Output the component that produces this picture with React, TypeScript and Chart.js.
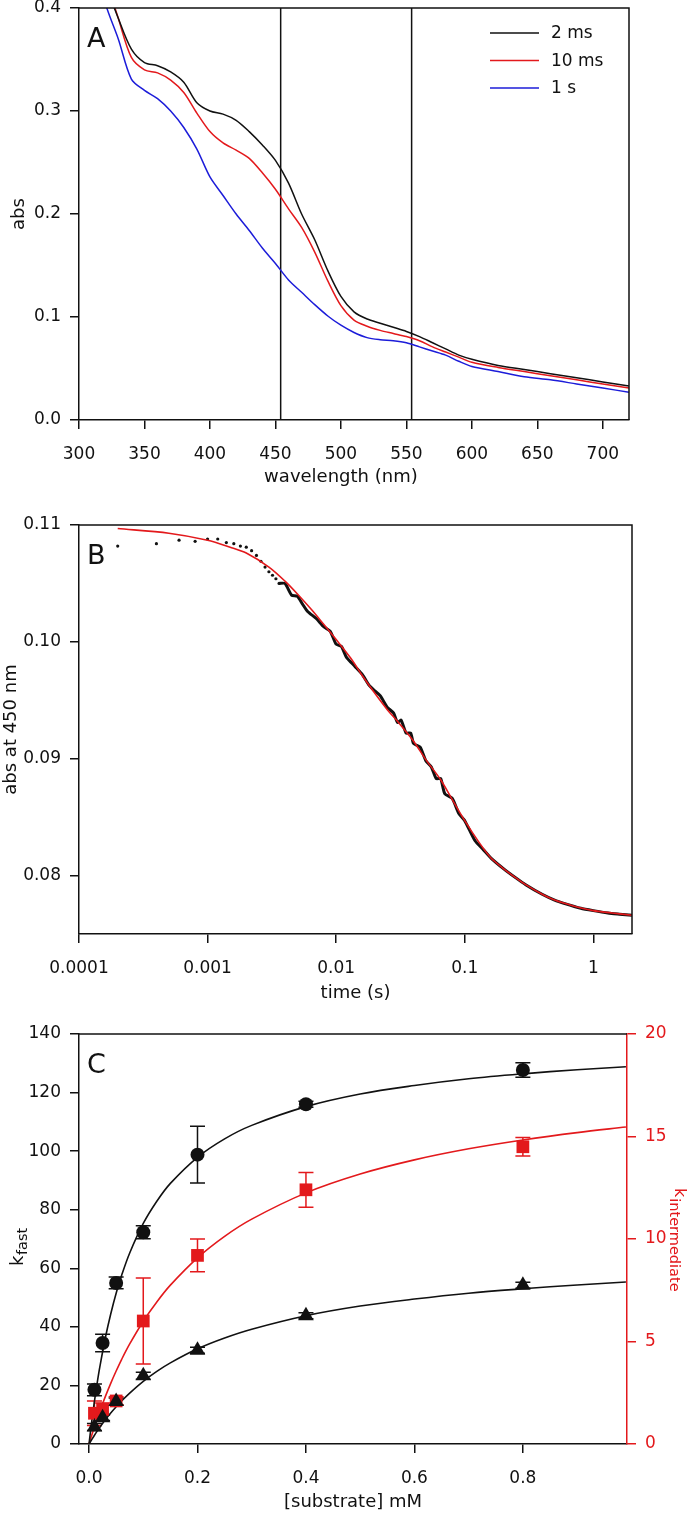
import React, { useEffect, useRef } from 'react';
import { Chart, registerables } from 'chart.js';

Chart.register(...registerables);

const FONT = '"DejaVu Sans", "Liberation Sans", Arial, sans-serif';
const INK = '#111111';
const RED = '#e3191c';
const BLUE = '#1c1cd9';
const PAGE_W = 693;

// ---------------- Panel A : spectra ----------------
const wavelengthNm = [310, 320, 330, 340, 350, 360, 370, 380, 390, 400, 410, 420, 430, 440, 450, 460, 470, 480, 490, 500, 510, 520, 530, 540, 550, 560, 570, 580, 590, 600, 620, 640, 660, 680, 700, 720];
const abs2ms = [0.47, 0.425, 0.39, 0.36, 0.347, 0.344, 0.338, 0.328, 0.308, 0.3, 0.297, 0.291, 0.28, 0.267, 0.252, 0.23, 0.2, 0.175, 0.145, 0.12, 0.105, 0.098, 0.094, 0.09, 0.086, 0.081, 0.075, 0.069, 0.063, 0.059, 0.053, 0.049, 0.045, 0.041, 0.037, 0.033];
const abs10ms = [0.47, 0.43, 0.39, 0.352, 0.34, 0.337, 0.33, 0.318, 0.298, 0.28, 0.269, 0.262, 0.254, 0.24, 0.224, 0.205, 0.187, 0.163, 0.135, 0.111, 0.097, 0.091, 0.087, 0.084, 0.081, 0.077, 0.071, 0.066, 0.061, 0.056, 0.051, 0.047, 0.043, 0.039, 0.035, 0.031];
const abs1s = [0.46, 0.405, 0.37, 0.331, 0.32, 0.312, 0.3, 0.284, 0.263, 0.236, 0.218, 0.2, 0.184, 0.167, 0.152, 0.136, 0.124, 0.112, 0.101, 0.092, 0.085, 0.08, 0.078, 0.077, 0.075, 0.071, 0.067, 0.063, 0.057, 0.052, 0.047, 0.042, 0.039, 0.035, 0.031, 0.027];
const seriesLabelsA = ['2 ms', '10 ms', '1 s'];
const markerNm = [454, 554];
const xTicksA = [300, 350, 400, 450, 500, 550, 600, 650, 700];
const yTicksA = [0, 0.1, 0.2, 0.3, 0.4];

// ---------------- Panel B : trace at 450 nm ----------------
const dotTimes = [0.0002, 0.0004, 0.0006, 0.0008, 0.001, 0.0012, 0.0014, 0.0016, 0.0018, 0.002, 0.0022, 0.0024, 0.0026, 0.0028, 0.003, 0.0032, 0.0034, 0.0036];
const dotAbs = [0.1082, 0.1084, 0.1087, 0.1086, 0.1088, 0.1088, 0.1085, 0.1084, 0.1082, 0.1081, 0.1078, 0.1074, 0.1069, 0.1064, 0.106, 0.1057, 0.1054, 0.105];
const traceTimes = [0.0036, 0.004, 0.0045, 0.005, 0.0055, 0.006, 0.007, 0.008, 0.009, 0.01, 0.011, 0.012, 0.014, 0.016, 0.018, 0.02, 0.022, 0.025, 0.028, 0.03, 0.032, 0.035, 0.038, 0.04, 0.045, 0.05, 0.055, 0.06, 0.065, 0.07, 0.08, 0.09, 0.1, 0.12, 0.14, 0.16, 0.2, 0.25, 0.3, 0.4, 0.5, 0.6, 0.8, 1.0, 1.3, 1.6, 2.0];
const traceAbs = [0.105, 0.105, 0.104, 0.1039, 0.1032, 0.1026, 0.102, 0.1013, 0.1009, 0.0998, 0.0996, 0.0987, 0.0979, 0.0972, 0.0963, 0.0958, 0.0954, 0.0944, 0.0939, 0.0931, 0.0933, 0.0922, 0.0922, 0.0913, 0.091, 0.0898, 0.0893, 0.0883, 0.0883, 0.087, 0.0866, 0.0853, 0.0847, 0.083, 0.0822, 0.0815, 0.0806, 0.0798, 0.0792, 0.0784, 0.0779, 0.0776, 0.0772, 0.077, 0.0768, 0.0767, 0.0766];
const fitTimes = [0.0002, 0.0005, 0.001, 0.0015, 0.002, 0.003, 0.004, 0.005, 0.0065, 0.008, 0.01, 0.013, 0.016, 0.02, 0.025, 0.03, 0.04, 0.05, 0.065, 0.08, 0.1, 0.13, 0.16, 0.2, 0.25, 0.3, 0.4, 0.5, 0.7, 1.0, 1.4, 2.0];
const fitAbs = [0.1097, 0.1093, 0.1087, 0.1081, 0.1076, 0.1064, 0.1052, 0.1041, 0.1027, 0.1015, 0.1002, 0.0986, 0.0971, 0.0956, 0.0942, 0.0932, 0.0915, 0.0899, 0.0882, 0.0865, 0.0847, 0.0828, 0.0815, 0.0806, 0.0798, 0.0792, 0.0784, 0.0779, 0.0774, 0.077, 0.0768, 0.0766];
const xTicksB = [0.0001, 0.001, 0.01, 0.1, 1];
const xLabelsB = ['0.0001', '0.001', '0.01', '0.1', '1'];
const yTicksB = [0.08, 0.09, 0.1, 0.11];
const yLabelsB = ['0.08', '0.09', '0.10', '0.11'];

// ---------------- Panel C : rate constants ----------------
const substrateMM = [0.01, 0.025, 0.05, 0.1, 0.2, 0.4, 0.8];
const kFast = [18.5, 34.5, 55, 72.3, 98.8, 116, 127.7];
const kFastErr = [2, 3, 2, 2.2, 9.7, 1, 2.5];
const kSlow = [5.8, 9, 14.5, 23.3, 32, 43.8, 54.2];
const kSlowErr = [1.2, 1, 1.2, 1.2, 1, 1, 1];
const kInter = [1.5, 1.7, 2.1, 6.0, 9.2, 12.4, 14.5];
const kInterErr = [0.6, 0.3, 0.2, 2.1, 0.8, 0.85, 0.45];
const fitSubstrate = [0, 0.0025, 0.005, 0.01, 0.015, 0.02, 0.03, 0.04, 0.05, 0.06, 0.075, 0.1, 0.125, 0.15, 0.2, 0.25, 0.3, 0.4, 0.5, 0.6, 0.7, 0.8, 0.9, 0.99];
const fitFast = [0, 3.95, 7.7, 14.6, 20.8, 26.4, 36.2, 44.4, 51.5, 57.5, 65.2, 75.3, 82.9, 89.0, 97.9, 104.2, 108.8, 115.2, 119.5, 122.4, 124.7, 126.4, 127.8, 128.8];
const fitSlow = [0, 0.78, 1.53, 3.0, 4.4, 5.74, 8.26, 10.6, 12.7, 14.7, 17.4, 21.4, 24.8, 27.7, 32.5, 36.2, 39.2, 43.8, 47.1, 49.5, 51.5, 53.0, 54.3, 55.3];
const fitInter = [0, 0.22, 0.43, 0.84, 1.23, 1.61, 2.31, 2.96, 3.56, 4.12, 4.88, 5.99, 6.93, 7.75, 9.08, 10.13, 10.97, 12.25, 13.17, 13.86, 14.4, 14.83, 15.19, 15.46];
const xTicksC = [0, 0.2, 0.4, 0.6, 0.8];
const yTicksC = [0, 20, 40, 60, 80, 100, 120, 140];
const y2TicksC = [0, 5, 10, 15, 20];

// ---------------- helpers ----------------
const TICK_FONT = { family: FONT, size: 17 };
const TITLE_FONT = { family: FONT, size: 18 };

function axisStyle(color: string, pad = 9) {
  return {
    border: { display: true, color, width: 1.5 },
    grid: {
      display: true,
      drawOnChartArea: false,
      drawTicks: true,
      tickLength: 9,
      tickWidth: 1.5,
      tickColor: color,
      color,
      lineWidth: 1.5,
    },
    ticks: { color, font: TICK_FONT, padding: pad, maxRotation: 0, minRotation: 0, autoSkip: false },
  };
}

function fixedTicks(values: number[]) {
  return (scale: any) => {
    scale.ticks = values.map((v) => ({ value: v }));
  };
}

function fixSize(dim: 'width' | 'height', size: number) {
  return (scale: any) => {
    scale[dim] = size;
    scale.paddingTop = 0;
    scale.paddingBottom = 0;
    scale.paddingLeft = 0;
    scale.paddingRight = 0;
  };
}

function pts(xs: number[], ys: number[]) {
  return xs.map((x, i) => ({ x, y: ys[i] }));
}

const X_PAD = 15;

const baseOptions = {
  animation: false,
  responsive: false,
  maintainAspectRatio: false,
  devicePixelRatio: 1,
  events: [],
  plugins: { legend: { display: false }, tooltip: { enabled: false }, title: { display: false } },
};

function drawBox(chart: any) {
  const { ctx, chartArea: a } = chart;
  ctx.save();
  ctx.strokeStyle = INK;
  ctx.lineWidth = 1.5;
  ctx.beginPath();
  ctx.moveTo(a.left, a.top);
  ctx.lineTo(a.right, a.top);
  ctx.lineTo(a.right, a.bottom);
  ctx.stroke();
  ctx.restore();
}

function drawLetter(chart: any, letter: string) {
  const { ctx, chartArea: a } = chart;
  ctx.save();
  ctx.fillStyle = INK;
  ctx.font = `27px ${FONT}`;
  ctx.textAlign = 'left';
  ctx.textBaseline = 'alphabetic';
  ctx.fillText(letter, a.left + 8, a.top + 39);
  ctx.restore();
}

// ---------------- configs ----------------
function configA() {
  const colors = [INK, RED, BLUE];
  const series = [abs2ms, abs10ms, abs1s];
  const datasets: any[] = series.map((ys, i) => ({
    label: seriesLabelsA[i],
    data: pts(wavelengthNm, ys),
    borderColor: colors[i],
    borderWidth: 1.5,
    pointRadius: 0,
    tension: 0.3,
    fill: false,
  }));
  markerNm.forEach((m) => {
    datasets.push({
      label: '',
      data: [
        { x: m, y: yTicksA[0] },
        { x: m, y: yTicksA[yTicksA.length - 1] },
      ],
      borderColor: INK,
      borderWidth: 1.5,
      pointRadius: 0,
      fill: false,
    });
  });
  const plugin = {
    id: 'extrasA',
    afterDraw(chart: any) {
      const { ctx, chartArea: a, scales } = chart;
      drawBox(chart);
      drawLetter(chart, 'A');
      ctx.save();
      ctx.font = `17px ${FONT}`;
      ctx.textBaseline = 'middle';
      ctx.textAlign = 'left';
      seriesLabelsA.forEach((lab, i) => {
        const y = a.top + 25 + i * 27.5;
        const x0 = a.right - 139;
        ctx.strokeStyle = colors[i];
        ctx.lineWidth = 1.5;
        ctx.beginPath();
        ctx.moveTo(x0, y);
        ctx.lineTo(x0 + 49, y);
        ctx.stroke();
        ctx.fillStyle = INK;
        ctx.fillText(lab, x0 + 61, y + 1);
      });
      const xs = scales.x;
      const cx = (xs.getPixelForValue(xTicksA[0]) + xs.getPixelForValue(xTicksA[xTicksA.length - 1])) / 2;
      ctx.font = `18px ${FONT}`;
      ctx.textAlign = 'center';
      ctx.fillStyle = INK;
      ctx.fillText('wavelength (nm)', cx, 477);
      ctx.restore();
    },
  };
  return {
    type: 'line',
    data: { datasets },
    options: {
      ...baseOptions,
      layout: { padding: { top: 8, right: PAGE_W - 629, left: 0, bottom: 0 } },
      scales: {
        x: {
          type: 'linear',
          min: 300,
          max: 720,
          ...axisStyle(INK, X_PAD),
          afterBuildTicks: fixedTicks(xTicksA),
          afterFit: fixSize('height', 70),
          ticks: { ...axisStyle(INK, X_PAD).ticks, callback: (v: number) => String(v) },
        },
        y: {
          type: 'linear',
          min: 0,
          max: 0.4,
          ...axisStyle(INK),
          afterBuildTicks: fixedTicks(yTicksA),
          afterFit: fixSize('width', 79),
          ticks: { ...axisStyle(INK).ticks, callback: (v: number) => v.toFixed(1) },
          title: { display: true, text: 'abs', color: INK, font: TITLE_FONT, padding: { top: 9, bottom: 0 } },
        },
      },
    },
    plugins: [plugin],
  };
}

function configB() {
  const plugin = {
    id: 'extrasB',
    afterDraw(chart: any) {
      drawBox(chart);
      drawLetter(chart, 'B');
    },
  };
  return {
    type: 'line',
    data: {
      datasets: [
        {
          label: 'fit',
          data: pts(fitTimes, fitAbs),
          borderColor: RED,
          borderWidth: 1.6,
          pointRadius: 0,
          tension: 0.3,
          fill: false,
          order: 0,
        },
        {
          label: 'trace',
          data: pts(traceTimes, traceAbs),
          borderColor: INK,
          borderWidth: 3,
          pointRadius: 0,
          tension: 0.2,
          fill: false,
          order: 1,
        },
        {
          label: 'early',
          data: pts(dotTimes, dotAbs),
          showLine: false,
          pointRadius: 1.6,
          pointBorderWidth: 0,
          pointBackgroundColor: INK,
          borderColor: INK,
          order: 2,
        },
      ],
    },
    options: {
      ...baseOptions,
      layout: { padding: { top: 35, right: PAGE_W - 632, left: 0, bottom: 0 } },
      scales: {
        x: {
          type: 'logarithmic',
          min: 0.0001,
          max: 2,
          ...axisStyle(INK, X_PAD),
          afterBuildTicks: fixedTicks(xTicksB),
          afterFit: fixSize('height', 71),
          ticks: { ...axisStyle(INK, X_PAD).ticks, callback: (_v: number, i: number) => xLabelsB[i] },
          title: { display: true, text: 'time (s)', color: INK, font: TITLE_FONT, padding: { top: 0, bottom: 1 } },
        },
        y: {
          type: 'linear',
          min: 0.075,
          max: 0.11,
          ...axisStyle(INK),
          afterBuildTicks: fixedTicks(yTicksB),
          afterFit: fixSize('width', 79),
          ticks: { ...axisStyle(INK).ticks, callback: (_v: number, i: number) => yLabelsB[i] },
          title: { display: true, text: 'abs at 450 nm', color: INK, font: TITLE_FONT, padding: { top: 1, bottom: 0 } },
        },
      },
    },
    plugins: [plugin],
  };
}

function drawErrorBars(ctx: any, xs: any, ys: any, xv: number[], yv: number[], ev: number[], color: string) {
  ctx.save();
  ctx.strokeStyle = color;
  ctx.lineWidth = 1.5;
  xv.forEach((xval, i) => {
    const px = xs.getPixelForValue(xval);
    const top = ys.getPixelForValue(yv[i] + ev[i]);
    const bot = ys.getPixelForValue(yv[i] - ev[i]);
    ctx.beginPath();
    ctx.moveTo(px, top);
    ctx.lineTo(px, bot);
    ctx.moveTo(px - 7.5, top);
    ctx.lineTo(px + 7.5, top);
    ctx.moveTo(px - 7.5, bot);
    ctx.lineTo(px + 7.5, bot);
    ctx.stroke();
  });
  ctx.restore();
}

function configC() {
  const plugin = {
    id: 'extrasC',
    beforeDatasetsDraw(chart: any) {
      const { ctx, scales } = chart;
      drawErrorBars(ctx, scales.x, scales.y, substrateMM, kSlow, kSlowErr, INK);
      drawErrorBars(ctx, scales.x, scales.y, substrateMM, kFast, kFastErr, INK);
      drawErrorBars(ctx, scales.x, scales.y2, substrateMM, kInter, kInterErr, RED);
    },
    afterDraw(chart: any) {
      const { ctx, chartArea: a } = chart;
      ctx.save();
      ctx.strokeStyle = INK;
      ctx.lineWidth = 1.5;
      ctx.beginPath();
      ctx.moveTo(a.left, a.top);
      ctx.lineTo(a.right, a.top);
      ctx.stroke();
      ctx.restore();
      drawLetter(chart, 'C');
      ctx.save();
      ctx.fillStyle = INK;
      ctx.textBaseline = 'alphabetic';
      ctx.textAlign = 'left';
      ctx.translate(23, 261);
      ctx.rotate(-Math.PI / 2);
      ctx.font = `18px ${FONT}`;
      ctx.fillText('k', 0, 0);
      const kw = ctx.measureText('k').width;
      ctx.font = `14.5px ${FONT}`;
      ctx.fillText('fast', kw + 0.5, 4);
      ctx.restore();
      ctx.save();
      ctx.fillStyle = RED;
      ctx.textBaseline = 'alphabetic';
      ctx.textAlign = 'left';
      ctx.translate(675, 183);
      ctx.rotate(Math.PI / 2);
      ctx.font = `16px ${FONT}`;
      ctx.fillText('k', 0, 0);
      const kw2 = ctx.measureText('k').width;
      ctx.font = `14.5px ${FONT}`;
      ctx.fillText('intermediate', kw2 + 1, 5);
      ctx.restore();
    },
  };
  return {
    type: 'line',
    data: {
      datasets: [
        {
          label: 'kfast',
          data: pts(substrateMM, kFast),
          showLine: false,
          pointStyle: 'circle',
          pointRadius: 7,
          pointBackgroundColor: INK,
          pointBorderColor: INK,
          pointBorderWidth: 0,
          yAxisID: 'y',
          order: 0,
        },
        {
          label: 'kslow',
          data: pts(substrateMM, kSlow),
          showLine: false,
          pointStyle: 'triangle',
          pointRadius: 9,
          pointBackgroundColor: INK,
          pointBorderColor: INK,
          pointBorderWidth: 0,
          yAxisID: 'y',
          order: 0,
        },
        {
          label: 'kinter',
          data: pts(substrateMM, kInter),
          showLine: false,
          pointStyle: 'rect',
          pointRadius: 9,
          pointBackgroundColor: RED,
          pointBorderColor: RED,
          pointBorderWidth: 0,
          yAxisID: 'y2',
          order: 0,
        },
        {
          label: 'fitFast',
          data: pts(fitSubstrate, fitFast),
          borderColor: INK,
          borderWidth: 1.6,
          pointRadius: 0,
          tension: 0.35,
          fill: false,
          yAxisID: 'y',
          order: 1,
        },
        {
          label: 'fitSlow',
          data: pts(fitSubstrate, fitSlow),
          borderColor: INK,
          borderWidth: 1.6,
          pointRadius: 0,
          tension: 0.35,
          fill: false,
          yAxisID: 'y',
          order: 1,
        },
        {
          label: 'fitInter',
          data: pts(fitSubstrate, fitInter),
          borderColor: RED,
          borderWidth: 1.6,
          pointRadius: 0,
          tension: 0.35,
          fill: false,
          yAxisID: 'y2',
          order: 1,
        },
      ],
    },
    options: {
      ...baseOptions,
      layout: { padding: { top: 29, right: 0, left: 0, bottom: 0 } },
      scales: {
        x: {
          type: 'linear',
          min: -0.0185,
          max: 0.992,
          ...axisStyle(INK, X_PAD),
          afterBuildTicks: fixedTicks(xTicksC),
          afterFit: fixSize('height', 69),
          ticks: { ...axisStyle(INK, X_PAD).ticks, callback: (v: number) => v.toFixed(1) },
          title: { display: true, text: '[substrate] mM', color: INK, font: TITLE_FONT, padding: { top: 0, bottom: 0 } },
        },
        y: {
          type: 'linear',
          position: 'left',
          min: 0,
          max: 140,
          ...axisStyle(INK),
          afterBuildTicks: fixedTicks(yTicksC),
          afterFit: fixSize('width', 79),
          ticks: { ...axisStyle(INK).ticks, callback: (v: number) => String(v) },
        },
        y2: {
          type: 'linear',
          position: 'right',
          min: 0,
          max: 20,
          ...axisStyle(RED),
          afterBuildTicks: fixedTicks(y2TicksC),
          afterFit: fixSize('width', PAGE_W - 627),
          ticks: { ...axisStyle(RED).ticks, callback: (v: number) => String(v) },
        },
      },
    },
    plugins: [plugin],
  };
}

function Panel({ top, height, build }: { top: number; height: number; build: () => any }) {
  const ref = useRef<HTMLCanvasElement | null>(null);
  useEffect(() => {
    if (!ref.current) return;
    const chart = new Chart(ref.current, build());
    return () => chart.destroy();
  }, [build]);
  return (
    <canvas
      ref={ref}
      width={PAGE_W}
      height={height}
      style={{ position: 'absolute', left: 0, top, width: PAGE_W, height, display: 'block' }}
    />
  );
}

export default function App() {
  Chart.defaults.font.family = FONT;
  Chart.defaults.color = INK;
  return (
    <div style={{ position: 'absolute', left: 0, top: 0, width: PAGE_W, height: 1513, background: '#ffffff' }}>
      <Panel top={0} height={490} build={configA} />
      <Panel top={490} height={515} build={configB} />
      <Panel top={1005} height={508} build={configC} />
    </div>
  );
}
